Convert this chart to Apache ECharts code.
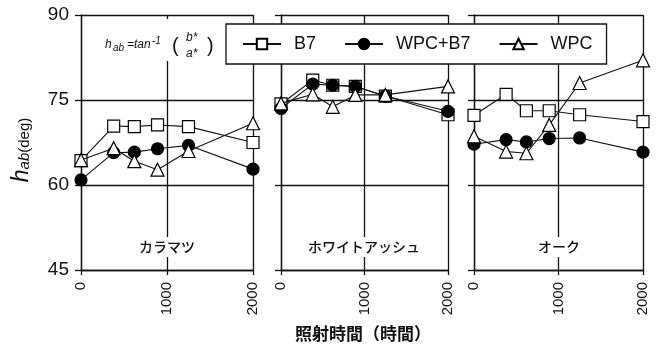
<!DOCTYPE html>
<html>
<head>
<meta charset="utf-8">
<script src="https://cdn.jsdelivr.net/npm/echarts@6/dist/echarts.min.js"></script>
<style>html,body{margin:0;padding:0;background:#fff;}#c{width:658px;height:348px;}</style>
</head>
<body>
<div id="c"></div>
<script>
// ---- data ----
const times = [0, 380, 620, 890, 1250, 2000];
const panelNames = ['カラマツ', 'ホワイトアッシュ', 'オーク'];
const seriesNames = ['B7', 'WPC+B7', 'WPC'];
const xTicks = [0, 1000, 2000];
const yTicks = [45, 60, 75, 90];

const b7_karamatsu    = [64.3, 70.4, 70.3, 70.6, 70.3, 67.5];
const wpcb7_karamatsu = [60.9, 65.7, 65.8, 66.4, 67.0, 62.8];
const wpc_karamatsu   = [64.4, 66.5, 64.2, 62.7, 66.0, 70.9];

const b7_white    = [74.3, 78.5, 77.6, 77.4, 75.7, 72.4];
const wpcb7_white = [73.5, 77.8, 77.6, 77.4, 75.7, 73.0];
const wpc_white   = [74.4, 76.0, 73.8, 75.9, 75.9, 77.4];

const b7_oak    = [72.3, 76.0, 73.1, 73.1, 72.4, 71.2];
const wpcb7_oak = [67.2, 68.0, 67.6, 68.2, 68.3, 65.8];
const wpc_oak   = [68.6, 65.9, 65.6, 70.6, 78.0, 82.0];

const panelData = [
  [b7_karamatsu, wpcb7_karamatsu, wpc_karamatsu],
  [b7_white, wpcb7_white, wpc_white],
  [b7_oak, wpcb7_oak, wpc_oak]
];

// ---- layout/style ----
const gridBoxes = [
  {left: 81, width: 172, top: 15, height: 255},
  {left: 281, width: 167, top: 15, height: 255},
  {left: 474, width: 169, top: 15, height: 255}
];
const symbolStyle = [
  {symbol: 'rect', size: 12, fill: '#fff'},
  {symbol: 'circle', size: 12, fill: '#000'},
  {symbol: 'triangle', size: 13, fill: '#fff'}
];
const lineCol = '#111';

const grids = [], xAxes = [], yAxes = [], series = [];
gridBoxes.forEach((g, i) => {
  grids.push(Object.assign({containLabel: false}, g));
  xAxes.push({
    type: 'value', gridIndex: i, min: xTicks[0], max: xTicks[xTicks.length - 1], interval: 1000,
    axisLine: {show: true, lineStyle: {color: lineCol, width: 1.3}},
    axisTick: {show: true, inside: false, length: 5, lineStyle: {color: lineCol, width: 1.3}},
    splitLine: {show: true, lineStyle: {color: lineCol, width: 1.3}},
    axisLabel: {show: true, rotate: 90, margin: 12, fontSize: 15, color: '#111',
      fontFamily: 'Liberation Sans, Arial, sans-serif', formatter: v => String(v)}
  });
  yAxes.push({
    type: 'value', gridIndex: i, min: yTicks[0], max: yTicks[yTicks.length - 1], interval: 15,
    axisLine: {show: true, lineStyle: {color: lineCol, width: 1.3}},
    axisTick: {show: true, inside: false, length: 6, lineStyle: {color: lineCol, width: 1.3}},
    splitLine: {show: true, lineStyle: {color: lineCol, width: 1.3}},
    axisLabel: {show: i === 0, margin: 12, fontSize: 19, color: '#111',
      fontFamily: 'Liberation Sans, Arial, sans-serif'}
  });
  panelData[i].forEach((vals, k) => {
    const s = symbolStyle[k];
    series.push({
      type: 'line', name: seriesNames[k], xAxisIndex: i, yAxisIndex: i,
      data: times.map((t, j) => [t, vals[j]]),
      symbol: s.symbol, symbolSize: s.size, showAllSymbol: true,
      lineStyle: {color: lineCol, width: 1.1},
      itemStyle: {color: s.fill, borderColor: '#000', borderWidth: 1.2},
      z: 3 + k, animation: false
    });
  });
});

const graphics = [];
// white backdrop behind formula
graphics.push({type: 'rect', shape: {x: 96, y: 19, width: 129, height: 42}, style: {fill: '#fff'}, z: 50});
const fItalic = 'italic 12px "Liberation Sans", Arial, sans-serif';
const fItalicS = 'italic 10px "Liberation Sans", Arial, sans-serif';
function t(x, y, text, font, extra) {
  graphics.push(Object.assign({type: 'text', x: x, y: y, z: 60,
    style: {text: text, font: font, fill: '#111', align: 'left', verticalAlign: 'middle'}}, extra || {}));
}
t(105, 45, 'h', fItalic);
t(113, 48, 'ab', fItalicS);
t(127, 45, '=tan', fItalic);
t(152, 41, '-1', fItalicS);
t(172, 46, '(', '20px "Liberation Sans", Arial, sans-serif');
t(186, 38, 'b*', fItalic);
t(186, 54, 'a*', fItalic);
t(207, 46, ')', '20px "Liberation Sans", Arial, sans-serif');

// panel labels
const labelX = [167, 364, 559];
panelNames.forEach((n, i) => {
  graphics.push({type: 'text', x: labelX[i], y: 247, z: 60,
    style: {text: n, font: '500 14px "Noto Sans CJK JP", sans-serif', fill: '#111',
      align: 'center', verticalAlign: 'middle', backgroundColor: '#fff', padding: [3, 2, 3, 2]}});
});
// x axis title
graphics.push({type: 'text', x: 363, y: 334, z: 60,
  style: {text: '照射時間（時間）', font: 'bold 17px "Noto Sans CJK JP", sans-serif', fill: '#111',
    align: 'center', verticalAlign: 'middle'}});
// y axis title
graphics.push({type: 'text', x: 22, y: 150, rotation: Math.PI / 2, z: 60,
  style: {text: '{h|h}{s|ab}{n|(deg)}', align: 'center', verticalAlign: 'middle', fill: '#111',
    rich: {
      h: {font: 'italic 23px "Liberation Sans", Arial, sans-serif', fill: '#111'},
      s: {font: 'italic 15px "Liberation Sans", Arial, sans-serif', fill: '#111', padding: [6, 0, 0, 0]},
      n: {font: '15px "Liberation Sans", Arial, sans-serif', fill: '#111', padding: [6, 0, 0, 0]}
    }}});

const chart = echarts.init(document.getElementById('c'), null, {renderer: 'canvas'});
chart.setOption({
  backgroundColor: '#fff',
  animation: false,
  grid: grids, xAxis: xAxes, yAxis: yAxes, series: series,
  legend: {
    data: seriesNames, left: 226, top: 24, orient: 'horizontal',
    backgroundColor: '#fff', borderColor: '#111', borderWidth: 1.3,
    padding: [11, 14, 11, 16], itemGap: 28, itemWidth: 38, itemHeight: 13,
    textStyle: {fontSize: 18, color: '#111', fontFamily: 'Liberation Sans, Arial, sans-serif', padding: [0, 0, 0, 8]},
    selectedMode: false, z: 20
  },
  graphic: graphics
});
</script>
</body>
</html>
